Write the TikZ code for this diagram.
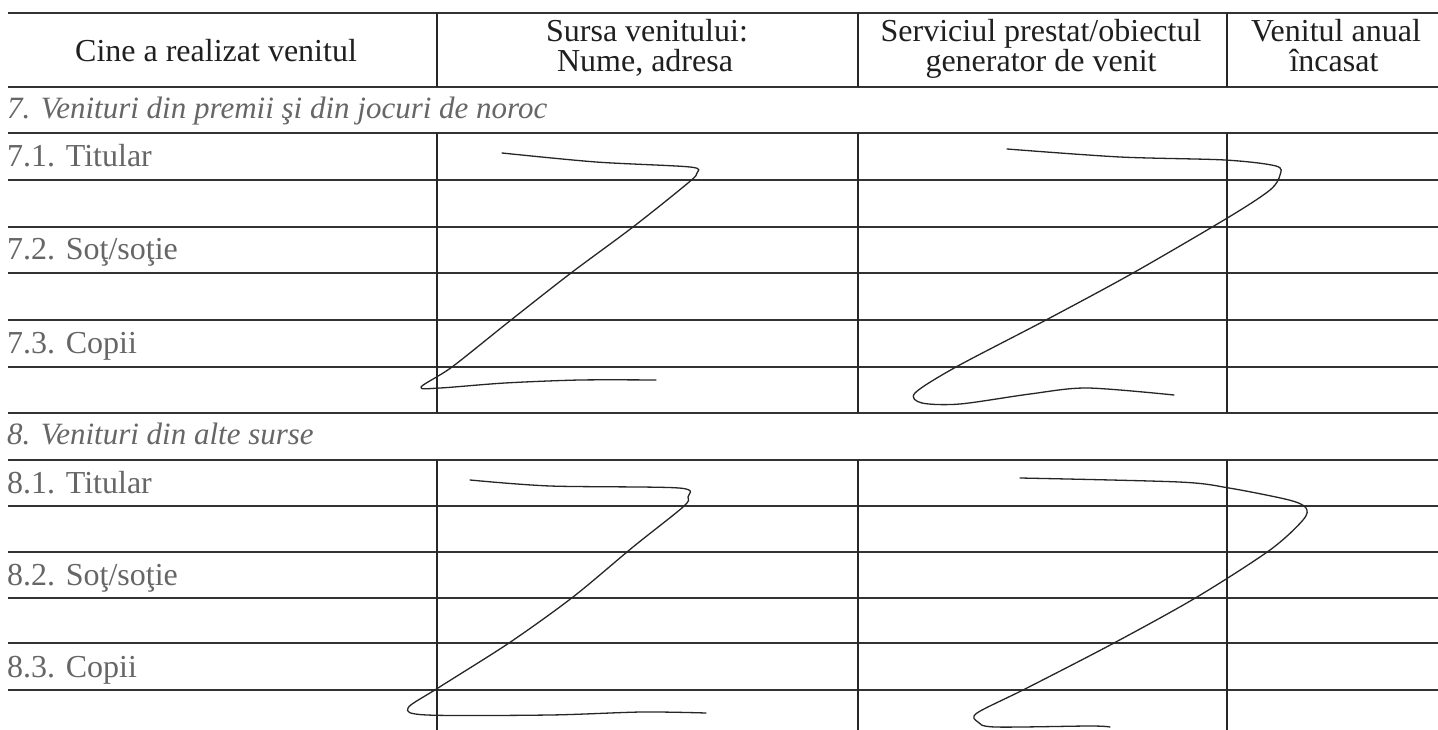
\documentclass[tikz,border=0pt]{standalone}
\usepackage{fontspec}
\setmainfont{Liberation Serif}
\begin{document}
\begin{tikzpicture}[x=1pt,y=-1pt,
  rule/.style={line width=1.8pt, draw=black!80},
  vrule/.style={line width=1.4pt, draw=black!85},
  hdr/.style={font=\fontsize{32}{30}\selectfont, text=black!88, inner sep=0pt, anchor=base},
  lbl/.style={font=\fontsize{32}{34}\selectfont, text=black!60, anchor=base west, inner sep=0pt},
  sec/.style={lbl, font=\fontsize{31}{34}\selectfont\itshape},
  pen/.style={line width=1.3pt, draw=black!85, line cap=round, line join=round}]
\useasboundingbox (0,0) rectangle (1438,730);
\fill[white] (0,0) rectangle (1438,730);
% horizontal rules
\foreach \y in {13,87,133,180,227,273,320,367,413,460,506,552,598,643,690}
  \draw[rule] (8,\y) -- (1438,\y);
% vertical rules
\foreach \x in {437,858,1227}{
  \draw[vrule] (\x,13) -- (\x,87);
  \draw[vrule] (\x,133) -- (\x,413);
  \draw[vrule] (\x,460) -- (\x,730);
}
% header
\node[hdr] (h1) at (216,62) {Cine a realizat venitul};
\node[hdr] (h2a) at (647,42) {Sursa venitului:};
\node[hdr] (h2b) at (645,72) {Nume, adresa};
\node[hdr] (h3a) at (1041,42) {Serviciul prestat/obiectul};
\node[hdr] (h3b) at (1041,72) {generator de venit};
\node[hdr] (h4a) at (1336,42) {Venitul anual};
\node[hdr] (h4b) at (1334,72) {încasat};
% section 7
\node[sec] (s7) at (7,119) {7. Venituri din premii şi din jocuri de noroc};
\node[lbl] (r71) at (7,167) {7.1. Titular};
\node[lbl] (r72) at (7,260) {7.2. Soţ/soţie};
\node[lbl] (r73) at (7,353) {7.3. Copii};
% section 8
\node[sec] (s8) at (7,444) {8. Venituri din alte surse};
\node[lbl] (r81) at (7,493) {8.1. Titular};
\node[lbl] (r82) at (7,585) {8.2. Soţ/soţie};
\node[lbl] (r83) at (7,677) {8.3. Copii};
% pen strokes (Z marks)
\draw[pen] plot[smooth, tension=0.5] coordinates {(502,153) (596,162) (690,167) (697,173) (688,183) (633,227) (571,273) (511,320) (452,367) (421,387) (440,388) (505,383) (580,380) (656,380)};
\draw[pen] plot[smooth, tension=0.5] coordinates {(1007,149) (1120,157) (1225,160) (1276,166) (1280,175) (1270,190) (1229,217) (1133,273) (1046,320) (956,367) (915,393) (922,403) (960,404) (1030,394) (1087,388) (1174,395)};
\draw[pen] plot[smooth, tension=0.5] coordinates {(470,480) (550,486) (679,488) (688,497) (683,507) (633,547) (573,597) (509,643) (438,688) (408,708) (427,715) (550,715) (642,712) (706,713)};
\draw[pen] plot[smooth, tension=0.5] coordinates {(1020,478) (1179,482) (1229,488) (1289,500) (1306,508) (1303,520) (1270,550) (1197,597) (1114,643) (1027,688) (977,713) (978,722) (995,727) (1090,726) (1110,727)};
\end{tikzpicture}
\end{document}
